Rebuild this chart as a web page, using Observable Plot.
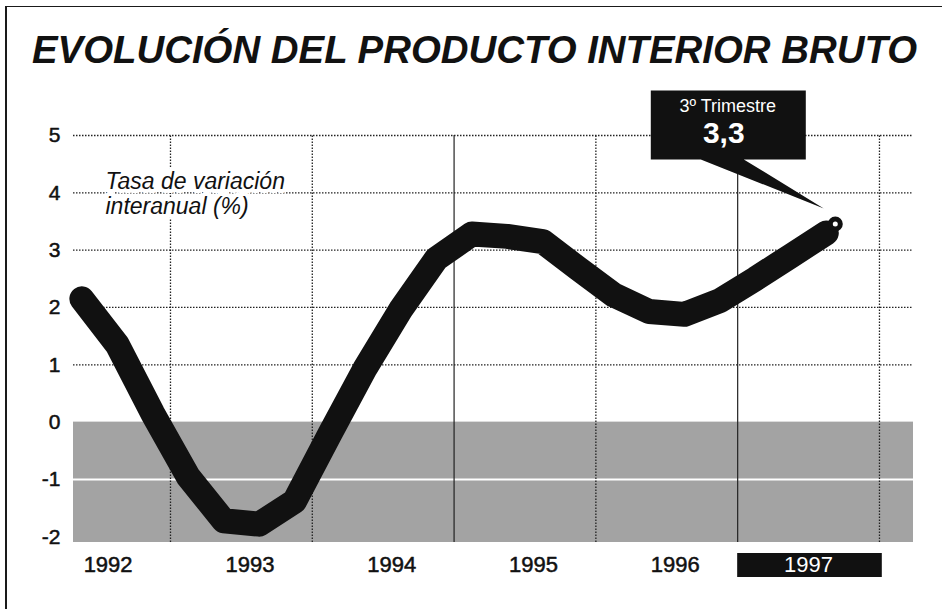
<!DOCTYPE html>
<html><head><meta charset="utf-8">
<script src="https://cdn.jsdelivr.net/npm/d3@7"></script>
<script src="https://cdn.jsdelivr.net/npm/@observablehq/plot@0.6"></script>
<style>
body{margin:0;background:#fff;}
#wrap{position:relative;width:942px;height:609px;overflow:hidden;background:#fff;}
#frame{position:absolute;left:5px;top:6px;width:960px;height:620px;border-left:2px solid #1a1a1a;border-top:1.5px solid #1a1a1a;}
#wrap svg{position:absolute;left:0;top:0;}
</style></head><body><div id="wrap"><div id="frame"></div></div>
<script>
// ---- data ----
const titleText = "EVOLUCIÓN DEL PRODUCTO INTERIOR BRUTO";
const yLabelLines = ["Tasa de variación", "interanual (%)"];
const calloutLines = ["3º Trimestre", "3,3"];
const yearLabels = [1992, 1993, 1994, 1995, 1996, 1997];
const yTicks = [-2, -1, 0, 1, 2, 3, 4, 5];
const gridYears = [1993, 1994, 1995, 1996, 1997, 1998];
const qYear = [1992,1992,1992, 1993,1993,1993,1993, 1994,1994,1994,1994, 1995,1995,1995,1995, 1996,1996,1996,1996, 1997,1997,1997];
const qNum  = [2,3,4, 1,2,3,4, 1,2,3,4, 1,2,3,4, 1,2,3,4, 1,2,3];
const gdp   = [2.15,1.35,0.15, -0.95,-1.72,-1.78,-1.38, -0.2,0.95,1.97,2.85, 3.28,3.24,3.15,2.68, 2.22,1.93,1.88,2.12, 2.5,2.9,3.3];

const data = qYear.map((y, i) => ({t: y + (qNum[i] - 0.5) / 4, v: gdp[i]}));
const last = data[data.length - 1];

const X0 = 1992.316, X1 = 1998.24, Y0 = -2.1, Y1 = 5;
const mT = 135, mB = 67, H = 609;
const k = (H - mT - mB) / (Y1 - Y0);
const ink = "#111";

const plot = Plot.plot({
  width: 942, height: H,
  marginTop: mT, marginBottom: mB, marginLeft: 73, marginRight: 29,
  x: {domain: [X0, X1], axis: null},
  y: {domain: [Y0, Y1], axis: null},
  style: {fontFamily: "'Liberation Sans', Arial, Helvetica, sans-serif", background: "transparent", overflow: "visible", color: ink},
  marks: [
    Plot.rect([0], {x1: X0, x2: X1, y1: Y0, y2: 0, fill: "#a3a3a3"}),
    Plot.ruleY([-1], {stroke: "white", strokeWidth: 2}),
    Plot.ruleY(yTicks.filter(d => d > 0), {stroke: "#222", strokeWidth: 1.3, strokeDasharray: "1.5,1.5"}),
    Plot.ruleX(gridYears.filter(d => d !== 1995 && d !== 1997), {y1: Y0, y2: Y1, stroke: "#222", strokeWidth: 1.3, strokeDasharray: "1.5,1.5"}),
    Plot.ruleX([1995, 1997], {y1: Y0, y2: Y1, stroke: "#222", strokeWidth: 1.2}),
    Plot.line(data, {x: "t", y: "v", stroke: ink, strokeWidth: 25, strokeLinejoin: "round", strokeLinecap: "round"}),
    Plot.dot([last], {x: "t", y: "v", r: 5, fill: "white", stroke: ink, strokeWidth: 5, dx: 9, dy: -9}),
    Plot.text(yTicks, {y: d => d, text: d => String(d), frameAnchor: "left", textAnchor: "end", dx: -13, fontSize: 21, fill: ink, stroke: ink, strokeWidth: 0.5}),
    Plot.text(yearLabels.filter(d => d !== 1997), {x: d => d + 0.56, text: d => String(d), frameAnchor: "bottom", lineAnchor: "top", dy: 14, fontSize: 22, fill: ink, stroke: ink, strokeWidth: 0.5}),
    Plot.rect(yearLabels.filter(d => d === 1997), {x1: d => d, x2: d => d + 1.02, y1: Y0 - 11 / k, y2: Y0 - 35 / k, fill: ink}),
    Plot.text(yearLabels.filter(d => d === 1997), {x: d => d + 0.5, text: d => String(d), frameAnchor: "bottom", lineAnchor: "top", dy: 14, fontSize: 22, fill: "white"}),
    Plot.text([yLabelLines.join("\n")], {text: d => d, frameAnchor: "top-left", textAnchor: "start", lineAnchor: "top", dx: 32, dy: 36, lineHeight: 1.08, fontSize: 23, fontStyle: "italic", fill: ink, stroke: "white", strokeWidth: 8, paintOrder: "stroke"})
  ]
});

const svg = d3.select(plot);
const xs = plot.scale("x"), ys = plot.scale("y");
const px = xs.apply(last.t), py = ys.apply(last.v);
const g = svg.append("g");
g.append("path")
  .attr("d", `M${px-175},${py-142}H${px-20}V${py-73}H${px-82}L${px-2},${py-24}L${px-125},${py-73}H${px-175}Z`)
  .attr("fill", ink);
g.append("text").attr("x", px - 98).attr("y", py - 120).attr("text-anchor", "middle")
  .attr("fill", "white").attr("font-size", 18).text(calloutLines[0]);
g.append("text").attr("x", px - 102).attr("y", py - 89).attr("text-anchor", "middle")
  .attr("fill", "white").attr("font-size", 30).attr("font-weight", "bold").text(calloutLines[1]);
svg.append("text").attr("x", 32).attr("y", 63).attr("text-anchor", "start")
  .attr("font-size", 38.5).attr("font-weight", "bold").attr("font-style", "italic")
  .attr("textLength", 885).attr("lengthAdjust", "spacingAndGlyphs")
  .attr("fill", ink).text(titleText);

document.getElementById("wrap").appendChild(plot);
</script>
</body></html>
